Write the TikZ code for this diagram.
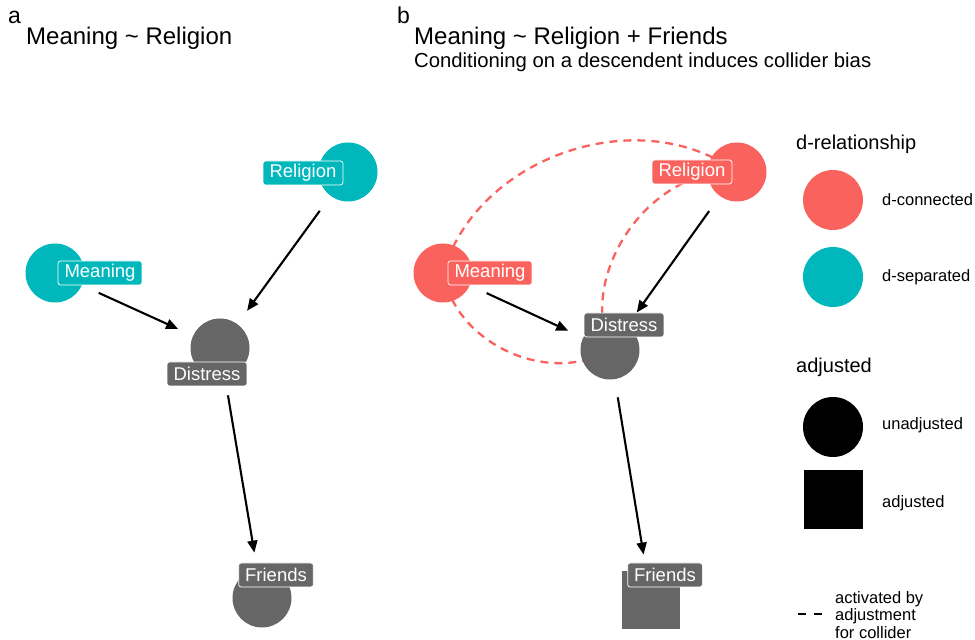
\documentclass[tikz,border=0pt]{standalone}
\usepackage{fontspec}
\setmainfont{Liberation Sans}
\usetikzlibrary{arrows.meta}
\pgfdeclarelayer{bg}
\pgfsetlayers{bg,main}
\definecolor{dcon}{HTML}{F9625D}
\definecolor{dsep}{HTML}{00B8BC}
\definecolor{ngray}{HTML}{666666}
\tikzset{
  nodecirc/.style={circle, minimum size=59pt, inner sep=0pt, draw=none, fill=#1},
  nodesq/.style={rectangle, minimum size=58pt, inner sep=0pt, draw=none, fill=#1},
  lbl/.style={rectangle, rounded corners=2.5pt, fill=#1, draw=white, line width=0.7pt,
    text=white, font=\fontsize{18.5}{20}\selectfont, inner xsep=6.5pt, inner ysep=0pt,
    minimum height=24pt},
  edge/.style={line width=2.1pt, -{Triangle[length=12pt,width=10pt]}, shorten >=46pt, shorten <=48pt},
  collider/.style={dcon, line width=2.3pt, dash pattern=on 8pt off 6pt},
  txt/.style={inner sep=0pt, anchor=base west},
  legtxt/.style={inner sep=0pt, anchor=west, font=\fontsize{16.5}{18}\selectfont}
}
\begin{document}
\begin{tikzpicture}[x=1pt,y=1pt]
\useasboundingbox (0,0) rectangle (975,640);
% titles
\node[txt, font=\fontsize{23}{24}\selectfont] (pa) at (8,616) {a};
\node[txt, font=\fontsize{24}{28}\selectfont] (ta) at (26,595) {Meaning \textasciitilde{} Religion};
\node[txt, font=\fontsize{23}{24}\selectfont] (pb) at (397,616) {b};
\node[txt, font=\fontsize{24}{28}\selectfont] (tb) at (414,595) {Meaning \textasciitilde{} Religion + Friends};
\node[txt, font=\fontsize{20.3}{24}\selectfont] (sb) at (414,572) {Conditioning on a descendent induces collider bias};

% panel a nodes
\node[nodecirc=dsep] (ra) at (348,468) {};
\node[nodecirc=dsep] (ma) at (55,367) {};
\node[nodecirc=ngray] (da) at (220,292) {};
\node[nodecirc=ngray] (fa) at (262,42) {};
\draw[edge] (ma.center) -- (da.center);
\draw[edge] (ra.center) -- (da.center);
\draw[edge] (da.center) -- (fa.center);
\node[lbl=dsep] (rla) at (303,467) {Religion};
\node[lbl=dsep] (mla) at (100,367) {Meaning};
\node[lbl=ngray] (dla) at (207,266) {Distress};
\node[lbl=ngray] (fla) at (276,65) {Friends};

% panel b nodes
\node[nodecirc=dcon] (rb) at (737,468) {};
\node[nodecirc=dcon] (mb) at (443,367) {};
\node[nodecirc=ngray] (db) at (610,290) {};
\node[nodesq=ngray] (fb) at (651,40) {};
\begin{pgfonlayer}{bg}
\draw[collider] (mb.center) to[bend left=55] (rb.center);
\draw[collider] (mb.center) to[bend right=55] (db.center);
\draw[collider] (rb.center) to[bend right=58] (db.center);
\end{pgfonlayer}
\draw[edge] (mb.center) -- (db.center);
\draw[edge] (rb.center) -- (db.center);
\draw[edge] (db.center) -- (fb.center);
\node[lbl=dcon] (rlb) at (692,468) {Religion};
\node[lbl=dcon] (mlb) at (490,367) {Meaning};
\node[lbl=ngray] (dlb) at (624,315) {Distress};
\node[lbl=ngray] (flb) at (665,65) {Friends};

% legend
\node[txt, font=\fontsize{20}{24}\selectfont] (lg1) at (796,490) {d-relationship};
\node[nodecirc=dcon, minimum size=60pt] (lc1) at (833,440) {};
\node[legtxt] (lt1) at (882,440) {d-connected};
\node[nodecirc=dsep, minimum size=60pt] (lc2) at (833,363) {};
\node[legtxt] (lt2) at (882,363) {d-separated};
\node[txt, font=\fontsize{20}{24}\selectfont] (lg2) at (796,267) {adjusted};
\node[nodecirc=black, minimum size=60pt] (lc3) at (833,213) {};
\node[legtxt] (lt3) at (882,215) {unadjusted};
\node[nodesq=black, minimum size=59pt] (lc4) at (833,140) {};
\node[legtxt] (lt4) at (882,137) {adjusted};
\coordinate (dl1) at (798,26);
\coordinate (dl2) at (823,26);
\draw[line width=2.6pt, dash pattern=on 8pt off 8pt] (dl1) -- (dl2);
\node[legtxt, align=left, font=\fontsize{16.5}{17.5}\selectfont] (lt5) at (835,25) {activated by\\adjustment\\for collider};
\end{tikzpicture}
\end{document}
